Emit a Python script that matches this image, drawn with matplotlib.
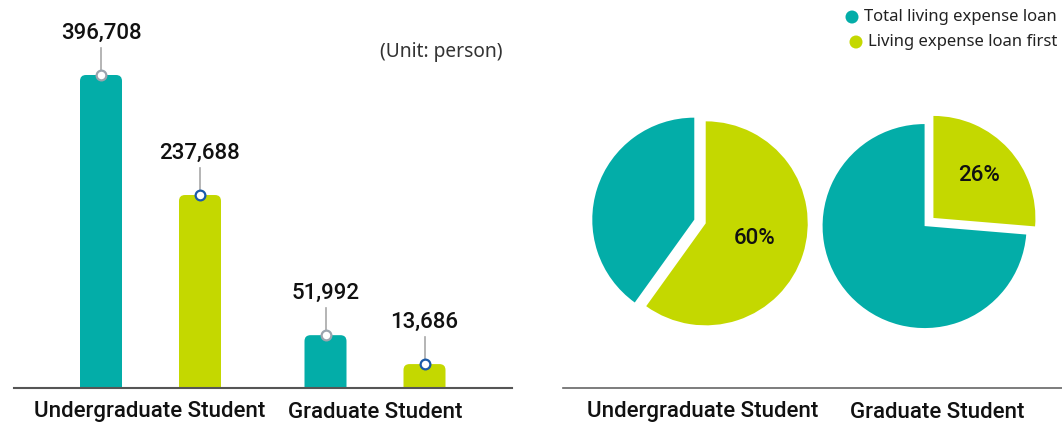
import math
import matplotlib
matplotlib.use("Agg")
import matplotlib.pyplot as plt
from matplotlib.patches import FancyBboxPatch, Circle

# ---- data ----
categories = ["Undergraduate Student", "Graduate Student"]
series_names = ["Total living expense loan", "Living expense loan first"]
total_loan = [396708, 51992]
first_loan = [237688, 13686]
pct_labels = ["60%", "26%"]
unit_text = "(Unit: person)"

TEAL = "#03ADA8"
LIME = "#C4D800"
TXT = "#111111"

W, H = 1062, 428
fig = plt.figure(figsize=(W / 100, H / 100), dpi=100)

# ---- bar chart ----
ax_l, ax_r, ax_b, ax_t = 14, 512, 388, 20   # pixels (screen)
ax = fig.add_axes([ax_l / W, 1 - ax_b / H, (ax_r - ax_l) / W, (ax_b - ax_t) / H])
px_per_unit = 313 / (396708 + 18000)
ymin = -18000
ymax = ymin + (ax_b - ax_t) / px_per_unit
ax.set_ylim(ymin, ymax)
group_px = 224.5
ax.set_xlim((ax_l - 150.5) / group_px, (ax_r - 150.5) / group_px)
u_per_px = 1 / px_per_unit
xu_per_px = 1 / group_px

offset = 49.5 * xu_per_px
bw = 42 * xu_per_px
rs = 6 * xu_per_px
aspect = u_per_px / xu_per_px

for gi in range(len(categories)):
    for vals, col, sgn, mec in ((total_loan, TEAL, -1, "#9BA4AE"), (first_loan, LIME, 1, "#1A5AA8")):
        x = gi + sgn * offset
        v = vals[gi]
        bottom = ymin - 20 * u_per_px
        p = FancyBboxPatch((x - bw / 2, bottom), bw, v - bottom,
                           boxstyle=f"round,pad=0,rounding_size={rs}",
                           mutation_aspect=aspect, fc=col, ec="none")
        ax.add_patch(p)
        ax.plot([x, x], [v, v + 27 * u_per_px], color="#A8A8A8", lw=1.2, zorder=3)
        ax.plot([x], [v], marker="o", ms=7, mfc="white", mec=mec, mew=1.6, zorder=4)
        ax.text(x, v + 42 * u_per_px, f"{v:,}", ha="center", va="center",
                fontsize=16, fontfamily="Roboto", fontweight="medium", color=TXT)

ax.axhline(ymin, color="#555555", lw=1.5, clip_on=False)
for s in ax.spines.values():
    s.set_visible(False)
ax.set_xticks([])
ax.set_yticks([])
ax.patch.set_alpha(0)

# ---- overlay: pies, legend, texts ----
ov = fig.add_axes([0, 0, 1, 1])
ov.patch.set_alpha(0)

pie_centers = [(700, 428 - 221.5), (929, 428 - 222)]
pct_dist = [0.5, 0.61]
for i in range(len(categories)):
    frac = first_loan[i] / total_loan[i]
    ov.pie([frac, 1 - frac],
           colors=[LIME, TEAL], startangle=90, counterclock=False,
           center=pie_centers[i], radius=102, explode=[6, 6],
           frame=True, wedgeprops=dict(linewidth=0))
    mid = math.radians(90 - 360 * frac / 2)
    cx, cy = pie_centers[i]
    r = 102 * pct_dist[i] + 6
    ov.text(cx + r * math.cos(mid), cy + r * math.sin(mid), pct_labels[i],
            ha="center", va="center", fontsize=16, fontfamily="Roboto",
            fontweight="medium", color=TXT)

ov.set_xlim(0, W)
ov.set_ylim(0, H)
ov.set_aspect("auto")
ov.axis("off")

# right baseline
ov.plot([563, 1062], [428 - 388, 428 - 388], color="#666666", lw=1.2)

# category labels
for x, t in ((150, categories[0]), (375, categories[1]), (703, categories[0]), (937, categories[1])):
    ov.text(x, 428 - 412, t, ha="center", va="center", fontsize=16,
            fontfamily="Roboto", fontweight="medium", color=TXT)

ov.text(503, 428 - 52, unit_text, ha="right", va="center", fontsize=13.8,
        fontfamily="Noto Sans", fontweight="light", color="#333333")

# legend
for (cx, cy), col, name, tx in (((852, 17), TEAL, series_names[0], 864),
                                ((856, 42), LIME, series_names[1], 868)):
    ov.add_patch(Circle((cx, 428 - cy), 6.5, fc=col, ec="none"))
    ov.text(tx, 428 - cy, name, ha="left", va="center", fontsize=12,
            fontfamily="Noto Sans", color="#222222")

fig.savefig("out.png", dpi=100)
